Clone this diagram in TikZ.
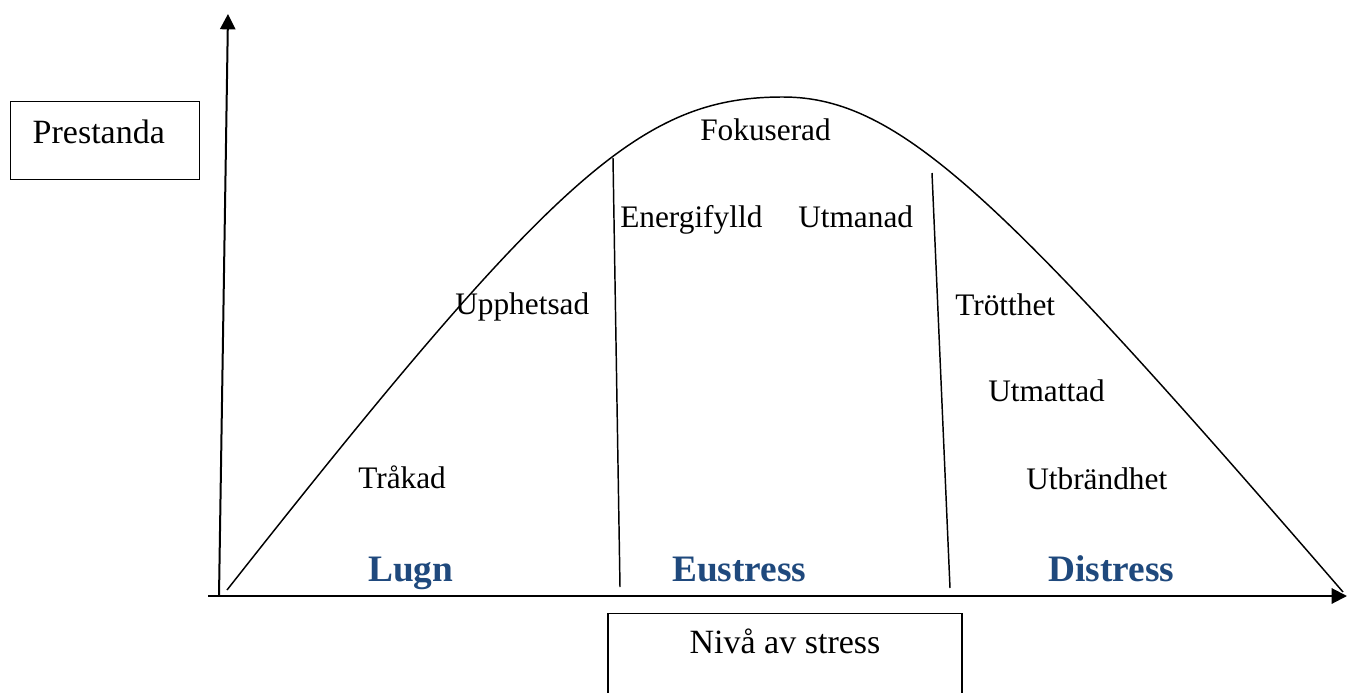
\documentclass[tikz,border=0pt]{standalone}
\usepackage{fontspec}
\setmainfont{Liberation Serif}
\usetikzlibrary{arrows.meta}
\definecolor{zoneblue}{RGB}{31,73,125}
\tikzset{
  body/.style={inner sep=0pt, anchor=base west, font=\fontsize{23.5}{28}\selectfont},
  zone/.style={inner sep=0pt, anchor=base west, text=zoneblue, font=\fontsize{28}{33}\selectfont\bfseries},
  axis/.style={line width=1.5pt, -{Triangle[length=11.5pt,width=11.5pt]}},
  divider/.style={line width=1.1pt},
  curve/.style={line width=1.1pt},
  boxed/.style={draw, line width=1.1pt, inner ysep=0pt, font=\fontsize{25.5}{30}\selectfont}
}
\begin{document}
\begin{tikzpicture}[x=0.75pt,y=-0.75pt]
\clip (0,0) rectangle (1347,693);
\fill[white] (0,0) rectangle (1347,693);
% axes
\coordinate (xstart) at (208,596);
\coordinate (xtip) at (1347,596);
\coordinate (origin) at (219,596);
\coordinate (ytip) at (228,14);
\draw[axis] (xstart) -- (xtip);
\draw[axis] (origin) -- (ytip);
% curve
\coordinate (cstart) at (227,590);
\coordinate (cpeak) at (783,97);
\coordinate (cend) at (1343,592);
\draw[curve] (cstart) .. controls (557,171) and (643,97) .. (cpeak)
  .. controls (900,97) and (1003,199) .. (cend);
% dividers
\coordinate (d1t) at (613,158);
\coordinate (d1b) at (620,587);
\coordinate (d2t) at (932,173);
\coordinate (d2b) at (950,588);
\draw[divider] (d1t) -- (d1b);
\draw[divider] (d2t) -- (d2b);
% boxes
\node[boxed, anchor=north west, inner xsep=16.5pt, text width=108.75pt, align=left,
      text height=31.5pt, text depth=27pt] (prestanda) at (10,101) {Prestanda};
\node[boxed, anchor=north, minimum width=265.5pt, align=center,
      text height=30pt, text depth=50pt] (niva) at (785,613) {Nivå av stress};
% labels
\node[body] (fokuserad) at (700,140) {Fokuserad};
\node[body] (energifylld) at (620,227) {Energifylld};
\node[body] (utmanad) at (798,227) {Utmanad};
\node[body] (upphetsad) at (455,314) {Upphetsad};
\node[body] (trakad) at (358,488) {Tråkad};
\node[body] (trotthet) at (955,315) {Trötthet};
\node[body] (utmattad) at (988,401) {Utmattad};
\node[body] (utbrandhet) at (1026,489) {Utbrändhet};
\node[zone] (lugn) at (368,581) {Lugn};
\node[zone] (eustress) at (672,581) {Eustress};
\node[zone] (distress) at (1048,581) {Distress};
\end{tikzpicture}
\end{document}
